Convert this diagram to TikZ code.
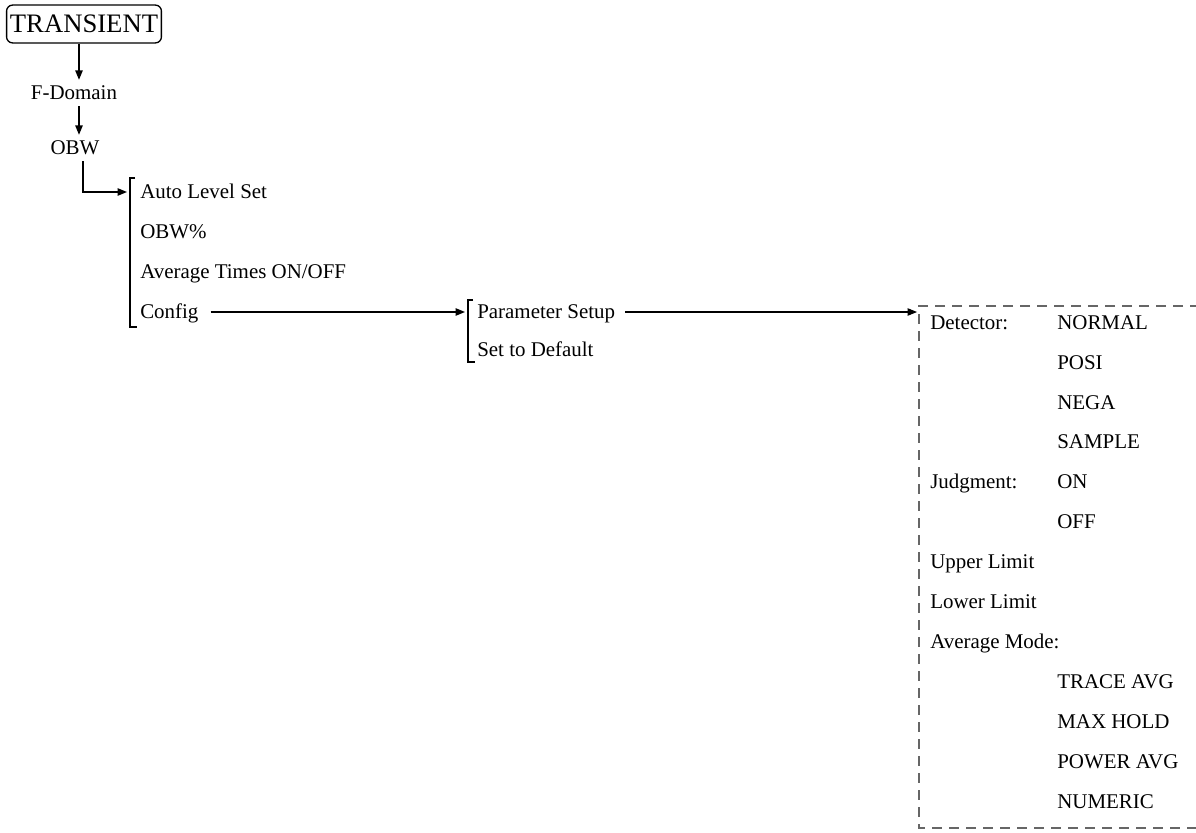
\documentclass[tikz,border=0pt]{standalone}
\usepackage{fontspec}
\setmainfont{Liberation Serif}
\usetikzlibrary{arrows.meta,positioning,calc}

\begin{document}
\begin{tikzpicture}[
    x=0.75pt, y=-0.75pt,
    font=\fontsize{15.7}{18}\selectfont,
    topbox/.style={
        rectangle, rounded corners=4.5pt, draw, line width=1pt,
        font=\fontsize{20}{24}\selectfont,
        text height=13.2pt, text depth=0pt, inner xsep=2.5pt, inner ysep=7.6pt
    },
    lvl/.style={text height=10.4pt, text depth=0pt, inner xsep=0pt, inner ysep=4.5pt},
    item/.style={anchor=west, text height=10.4pt, text depth=0pt, inner sep=0pt},
    arr/.style={-{Triangle[length=7pt, width=5.5pt]}, line width=1pt},
    bracket/.style={line width=1.3pt},
    dashbox/.style={draw=black!60, line width=1pt, dash pattern=on 7.5pt off 5.25pt}
]
\useasboundingbox (0,0) rectangle (1196,832);

% Top of the tree
\node[topbox] (trans) at (84,24) {TRANSIENT};
\node[lvl] (fdom) at (74,93) {F-Domain};
\node[lvl] (obw) at (75,148) {OBW};

\draw[arr] ([xshift=-3.75pt]trans.south) -- ([xshift=-3.75pt]trans.south |- fdom.north);
\draw[arr] ([xshift=3.75pt]fdom.south) -- ([xshift=3.75pt]fdom.south |- obw.north);

% OBW menu
\node[item] (autolvl) at (140,192) {Auto Level Set};
\node[item] (obwpct) at (140,232) {OBW\%};
\node[item] (avgtimes) at (140,272) {Average Times ON/OFF};
\node[item] (config) at (140,312) {Config};

\draw[bracket] (135,178) -- (130,178) -- (130,327) -- (137,327);
\draw[arr, shorten >=9.75pt] ([xshift=6pt]obw.south) |- (autolvl.west);

% Config menu
\node[item] (param) at (477,312) {Parameter Setup};
\node[item] (setdef) at (477,350) {Set to Default};

\draw[bracket] (473,300) -- (468,300) -- (468,362) -- (475,362);
\draw[arr, shorten <=9pt, shorten >=9pt] (config.east) -- (param.west);

% Parameter Setup box
\coordinate (boxtl) at (919,306);
\coordinate (boxbl) at (919,828);
\draw[dashbox] (1200,306) -- (boxtl) -- (boxbl) -- (1200,828);
\draw[arr, line width=0.8pt, shorten <=7.5pt, shorten >=1.5pt] (param.east) -- (param.east -| boxtl);

\node[item] (detector) at (930,323) {Detector:};
\node[item] (normal) at (1057,323) {NORMAL};
\node[item] (posi) at (1057,363) {POSI};
\node[item] (nega) at (1057,403) {NEGA};
\node[item] (sample) at (1057,442) {SAMPLE};
\node[item] (judg) at (930,482) {Judgment:};
\node[item] (on) at (1057,482) {ON};
\node[item] (off) at (1057,522) {OFF};
\node[item] (upper) at (930,562) {Upper Limit};
\node[item] (lower) at (930,602) {Lower Limit};
\node[item] (avgmode) at (930,642) {Average Mode:};
\node[item] (traceavg) at (1057,682) {TRACE AVG};
\node[item] (maxhold) at (1057,722) {MAX HOLD};
\node[item] (poweravg) at (1057,762) {POWER AVG};
\node[item] (numeric) at (1057,802) {NUMERIC};

\end{tikzpicture}
\end{document}
